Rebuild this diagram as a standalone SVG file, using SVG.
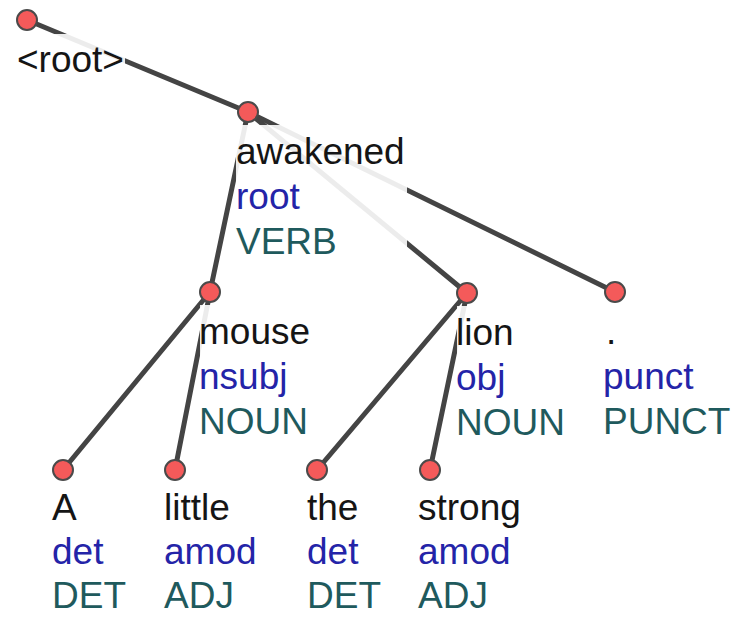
<svg xmlns="http://www.w3.org/2000/svg" width="733" height="618" viewBox="0 0 733 618">
  <style>
    .edge { stroke: #444; stroke-width: 5; stroke-linecap: round; fill: none; }
    .bg { fill: #fff; fill-opacity: 0.9; }
    .node { fill: #f45a5a; stroke: #4a4a4a; stroke-width: 2; }
    text { font-family: "Liberation Sans", Arial, sans-serif; font-size: 37px; }
    .w { fill: #151515; }
    .rel { fill: #2424a8; }
    .pos { fill: #1f5a5d; }
  </style>

  <!-- dependency arcs -->
  <g id="connectors">
    <line class="edge" x1="27" y1="20" x2="248" y2="112"/>
    <line class="edge" x1="248" y1="112" x2="210" y2="292"/>
    <line class="edge" x1="248" y1="112" x2="467" y2="293"/>
    <line class="edge" x1="248" y1="112" x2="615" y2="292"/>
    <line class="edge" x1="210" y1="292" x2="63" y2="470"/>
    <line class="edge" x1="210" y1="292" x2="175" y2="470"/>
    <line class="edge" x1="467" y1="293" x2="317" y2="470"/>
    <line class="edge" x1="467" y1="293" x2="430" y2="470"/>
  </g>

  <g id="n-root">
    <rect class="bg" x="17" y="34" width="108" height="46"/>
    <circle class="node" cx="27" cy="20" r="10"/>
    <text class="w" x="17" y="72">&lt;root&gt;</text>
  </g>

  <g id="n-awakened">
    <rect class="bg" x="236" y="125" width="171" height="136"/>
    <circle class="node" cx="248" cy="112" r="10"/>
    <text class="w" x="236" y="164">awakened</text>
    <text class="rel" x="236" y="209">root</text>
    <text class="pos" x="236" y="254">VERB</text>
  </g>

  <g id="n-mouse">
    <rect class="bg" x="200" y="305" width="113" height="136"/>
    <circle class="node" cx="210" cy="292" r="10"/>
    <text class="w" x="199" y="344">mouse</text>
    <text class="rel" x="199" y="389">nsubj</text>
    <text class="pos" x="199" y="434">NOUN</text>
  </g>

  <g id="n-lion">
    <rect class="bg" x="457" y="306" width="110" height="136"/>
    <circle class="node" cx="467" cy="293" r="10"/>
    <text class="w" x="456" y="345">lion</text>
    <text class="rel" x="456" y="390">obj</text>
    <text class="pos" x="456" y="435">NOUN</text>
  </g>

  <g id="n-punct">
    <rect class="bg" x="603" y="305" width="128" height="136"/>
    <circle class="node" cx="615" cy="292" r="10"/>
    <text class="w" x="606" y="344" font-size="24">.</text>
    <text class="rel" x="603" y="389">punct</text>
    <text class="pos" x="603" y="434">PUNCT</text>
  </g>

  <g id="n-A">
    <circle class="node" cx="63" cy="470" r="10"/>
    <text class="w" x="52" y="520">A</text>
    <text class="rel" x="52" y="564">det</text>
    <text class="pos" x="52" y="608">DET</text>
  </g>

  <g id="n-little">
    <circle class="node" cx="175" cy="470" r="10"/>
    <text class="w" x="164" y="520">little</text>
    <text class="rel" x="164" y="564">amod</text>
    <text class="pos" x="164" y="608">ADJ</text>
  </g>

  <g id="n-the">
    <circle class="node" cx="317" cy="470" r="10"/>
    <text class="w" x="307" y="520">the</text>
    <text class="rel" x="307" y="564">det</text>
    <text class="pos" x="307" y="608">DET</text>
  </g>

  <g id="n-strong">
    <circle class="node" cx="430" cy="470" r="10"/>
    <text class="w" x="418" y="520">strong</text>
    <text class="rel" x="418" y="564">amod</text>
    <text class="pos" x="418" y="608">ADJ</text>
  </g>
</svg>
